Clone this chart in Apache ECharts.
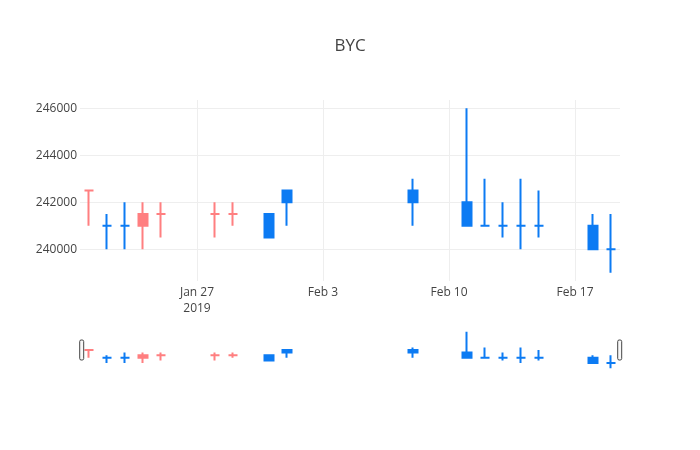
<!DOCTYPE html>
<html>
<head>
<meta charset="utf-8">
<script src="https://cdn.jsdelivr.net/npm/echarts@6/dist/echarts.min.js"></script>
<style>
html,body{margin:0;padding:0;background:#fff;}
#chart{width:700px;height:450px;}
</style>
</head>
<body>
<div id="chart"></div>
<script>
// ---- data ----
var titleText = 'BYC';
var dates = ['2019-01-21','2019-01-22','2019-01-23','2019-01-24','2019-01-25','2019-01-28','2019-01-29','2019-01-31','2019-02-01','2019-02-08','2019-02-11','2019-02-12','2019-02-13','2019-02-14','2019-02-15','2019-02-18','2019-02-19'];
var openVals  = [242500,241000,241000,241000,241500,241500,241500,241500,242500,242500,242000,241000,241000,241000,241000,241000,240000];
var highVals  = [242500,241500,242000,242000,242000,242000,242000,241500,242500,243000,246000,243000,242000,243000,242500,241500,241500];
var lowVals   = [241000,240000,240000,240000,240500,240500,241000,240500,241000,241000,241000,241000,240500,240000,240500,240000,239000];
var closeVals = [242500,241000,241000,241500,241500,241500,241500,240500,242000,242000,241000,241000,241000,241000,241000,240000,240000];
var yTicks = [240000,242000,244000,246000];
var xTickDates = ['2019-01-27','2019-02-03','2019-02-10','2019-02-17'];
var xTickLabels = ['Jan 27\n2019','Feb 3','Feb 10','Feb 17'];
var xRange = ['2019-01-20T12:00:00Z','2019-02-19T12:00:00Z'];
var yRange = [238650,246350];

// ---- styles ----
var incColor = '#FF7F80';
var decColor = '#0C7BF3';
var fontFam = '"Open Sans", "DejaVu Sans", sans-serif';

function ts(d){ return d.length > 10 ? Date.parse(d) : Date.parse(d + 'T00:00:00Z'); }

// direction rule (plotly-like): equal open/close compares to previous close
var items = [];
var inc = true, prevC = null;
for (var i = 0; i < dates.length; i++) {
  var o = openVals[i], c = closeVals[i];
  if (c > o) inc = true;
  else if (c < o) inc = false;
  else if (prevC !== null && c !== prevC) inc = c > prevC;
  prevC = c;
  var col = inc ? incColor : decColor;
  items.push({
    value: [ts(dates[i]), o, c, lowVals[i], highVals[i]],
    itemStyle: {color: col, color0: col, borderColor: col, borderColor0: col, borderWidth: 2}
  });
}
var tickTs = xTickDates.map(ts);
var labelMap = {};
tickTs.forEach(function(t, k){ labelMap[t] = xTickLabels[k]; });

var chart = echarts.init(document.getElementById('chart'), null, {renderer: 'canvas'});
chart.setOption({
  animation: false,
  backgroundColor: '#fff',
  title: {
    text: titleText, left: 'center', top: 33,
    textStyle: {fontFamily: fontFam, fontSize: 17, fontWeight: 'normal', color: '#444'}
  },
  grid: [
    {left: 80, right: 80, top: 100, bottom: 169, containLabel: false},
    {left: 80, right: 80, top: 330, height: 40, containLabel: false}
  ],
  xAxis: [
    {
      type: 'value', gridIndex: 0,
      min: ts(xRange[0]), max: ts(xRange[1]),
      axisLine: {show: false},
      axisTick: {show: false, customValues: tickTs},
      axisLabel: {
        customValues: tickTs, margin: 4, color: '#444', fontSize: 12, fontFamily: fontFam, lineHeight: 16,
        formatter: function(v){ return labelMap[v] || ''; }
      },
      splitLine: {show: true, lineStyle: {color: '#eee', width: 1}}
    },
    {
      type: 'value', gridIndex: 1,
      min: ts(xRange[0]), max: ts(xRange[1]),
      show: false
    }
  ],
  yAxis: [
    {
      type: 'value', gridIndex: 0, min: yRange[0], max: yRange[1],
      axisLine: {show: false},
      axisTick: {show: false, customValues: yTicks},
      axisLabel: {customValues: yTicks, margin: 3, color: '#444', fontSize: 12, fontFamily: fontFam,
        formatter: function(v){ return String(v); }},
      splitLine: {show: true, lineStyle: {color: '#eee', width: 1}}
    },
    {
      type: 'value', gridIndex: 1, min: yRange[0], max: yRange[1], show: false
    }
  ],
  dataZoom: [{
    type: 'slider', xAxisIndex: 1, filterMode: 'none', start: 0, end: 100,
    left: 80, right: 80, top: 340, height: 20,
    showDetail: false, showDataShadow: false, brushSelect: false, moveHandleSize: 0,
    backgroundColor: 'transparent', fillerColor: 'transparent', borderColor: 'transparent',
    handleIcon: 'path://M1.5,0 h1 a1.5,1.5 0 0 1 1.5,1.5 v17 a1.5,1.5 0 0 1 -1.5,1.5 h-1 a1.5,1.5 0 0 1 -1.5,-1.5 v-17 a1.5,1.5 0 0 1 1.5,-1.5 Z',
    handleSize: '100%',
    handleStyle: {color: '#f8f8f8', borderColor: '#444', borderWidth: 1},
    emphasis: {handleStyle: {color: '#f8f8f8', borderColor: '#444', borderWidth: 1}}
  }],
  series: [
    {
      type: 'candlestick', xAxisIndex: 0, yAxisIndex: 0,
      barWidth: 9, data: items, encode: {x: 0, y: [1, 2, 3, 4]}
    },
    {
      type: 'candlestick', xAxisIndex: 1, yAxisIndex: 1,
      barWidth: 9, data: items, encode: {x: 0, y: [1, 2, 3, 4]}, silent: true
    }
  ]
});
</script>
</body>
</html>
